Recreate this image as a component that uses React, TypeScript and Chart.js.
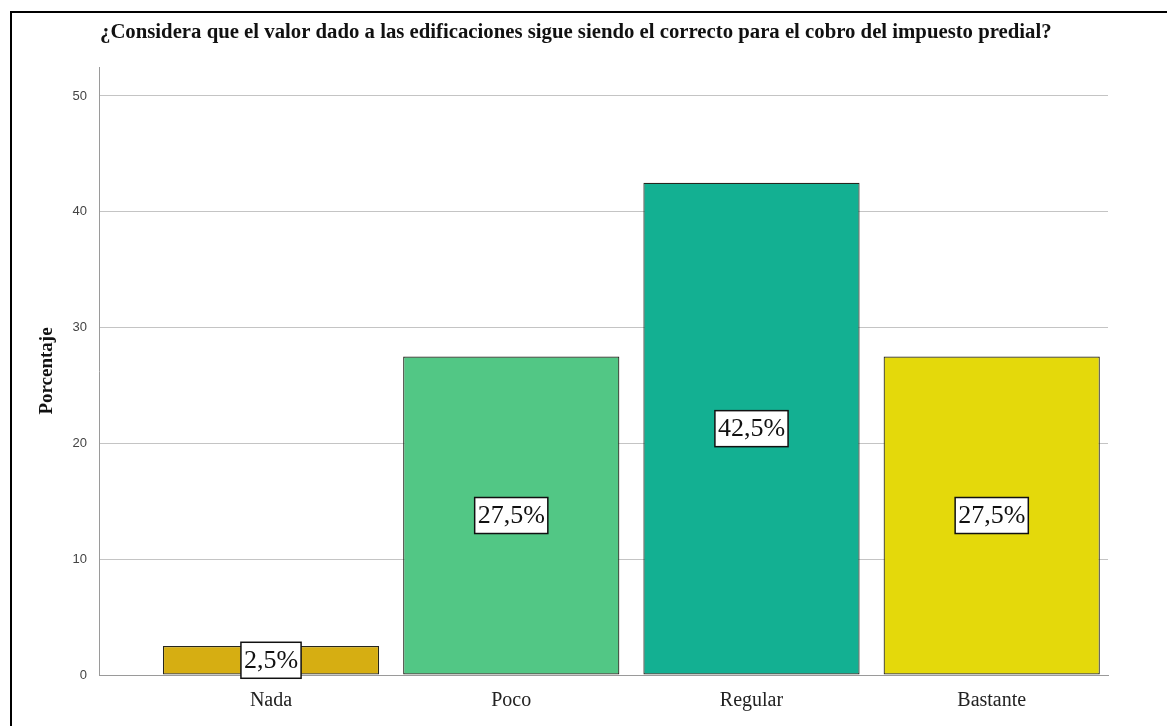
import React, { useEffect, useRef } from "react";
import { Chart, registerables } from "chart.js";

Chart.register(...registerables);

const chartTitle =
  "¿Considera que el valor dado a las edificaciones sigue siendo el correcto para el cobro del impuesto predial?";
const categories = ["Nada", "Poco", "Regular", "Bastante"];
const percentages = [2.5, 27.5, 42.5, 27.5];
const valueLabels = ["2,5%", "27,5%", "42,5%", "27,5%"];
const barColors = ["#D6AE12", "#52C785", "#13B092", "#E4D90B"];
const yTicks = [0, 10, 20, 30, 40, 50];
const yAxisTitle = "Porcentaje";

const titlePlugin = {
  id: "spssTitle",
  afterDraw(chart: any) {
    const ctx = chart.ctx;
    const area = chart.chartArea;
    ctx.save();
    ctx.fillStyle = "#111";
    ctx.textBaseline = "alphabetic";
    ctx.textAlign = "left";
    ctx.font = "bold 20px 'Liberation Serif'";
    const w = ctx.measureText(chartTitle).width;
    const target = 952;
    const size = (20 * target) / w;
    ctx.font = `bold ${size.toFixed(2)}px 'Liberation Serif'`;
    ctx.fillText(chartTitle, area.left + 1, 38);
    ctx.restore();
  },
};

const boxLabelPlugin = {
  id: "boxLabels",
  afterDatasetsDraw(chart: any) {
    const ctx = chart.ctx;
    const meta = chart.getDatasetMeta(0);
    ctx.save();
    ctx.font = "26px 'Liberation Serif'";
    ctx.textAlign = "center";
    ctx.textBaseline = "middle";
    meta.data.forEach((el: any, i: number) => {
      const text = valueLabels[i];
      const cx = el.x;
      const cy = (el.y + el.base) / 2;
      const tw = ctx.measureText(text).width;
      const bw = tw + 6;
      const bh = 36;
      ctx.fillStyle = "#ffffff";
      ctx.fillRect(cx - bw / 2, cy - bh / 2, bw, bh);
      ctx.lineWidth = 1.5;
      ctx.strokeStyle = "#111";
      ctx.strokeRect(cx - bw / 2, cy - bh / 2, bw, bh);
      ctx.fillStyle = "#111";
      ctx.fillText(text, cx, cy + 1);
    });
    ctx.restore();
  },
};

export default function App() {
  const canvasRef = useRef<HTMLCanvasElement | null>(null);

  useEffect(() => {
    const canvas = canvasRef.current;
    if (!canvas) return;
    const chart = new Chart(canvas, {
      type: "bar",
      data: {
        datasets: [
          {
            data: percentages.map((v, i) => ({ x: i, y: v })),
            backgroundColor: barColors,
            borderColor: "#26261e",
            borderWidth: 1.2,
            borderSkipped: false,
            barPercentage: 0.9,
            categoryPercentage: 1,
          },
        ],
      },
      options: {
        animation: false,
        responsive: false,
        devicePixelRatio: 1,
        layout: { padding: { left: 36, top: 67, right: 59, bottom: 0 } },
        plugins: {
          legend: { display: false },
          tooltip: { enabled: false },
          title: { display: false },
        },
        scales: {
          x: {
            type: "linear",
            offset: false,
            min: -0.716,
            max: 3.484,
            grid: { display: false, drawTicks: false, offset: false },
            border: { color: "#9a9a9a", width: 1 },
            afterBuildTicks: (axis: any) => {
              axis.ticks = categories.map((_, i) => ({ value: i }));
            },
            ticks: {
              autoSkip: false,
              maxRotation: 0,
              padding: 15,
              color: "#222",
              font: { family: "'Liberation Serif'", size: 20, lineHeight: 1.05 },
              callback: (v: any) => categories[v as number] ?? "",
            },
          },
          y: {
            min: 0,
            max: 52.5,
            afterFit: (s: any) => {
              s.width = 63;
            },
            afterBuildTicks: (axis: any) => {
              axis.ticks = yTicks.map((v) => ({ value: v }));
            },
            grid: { color: "#c4c4c4", lineWidth: 1, drawTicks: false },
            border: { color: "#9a9a9a", width: 1 },
            ticks: {
              padding: 12,
              color: "#444",
              font: { family: "'Liberation Sans'", size: 13 },
            },
            title: {
              display: true,
              text: yAxisTitle,
              color: "#111",
              padding: 0,
              font: { family: "'Liberation Serif'", size: 19, weight: "bold" },
            },
          },
        },
      },
      plugins: [titlePlugin, boxLabelPlugin],
    } as any);
    return () => chart.destroy();
  }, []);

  return (
    <div
      style={{
        position: "fixed",
        left: 0,
        top: 0,
        width: 1167,
        height: 726,
        overflow: "hidden",
        background: "#ffffff",
      }}
    >
      <div
        style={{
          position: "absolute",
          left: 10,
          top: 11,
          width: 1300,
          height: 900,
          border: "2px solid #000",
          boxSizing: "border-box",
        }}
      />
      <canvas
        ref={canvasRef}
        width={1167}
        height={726}
        style={{ position: "absolute", left: 0, top: 0, width: 1167, height: 726 }}
      />
    </div>
  );
}
